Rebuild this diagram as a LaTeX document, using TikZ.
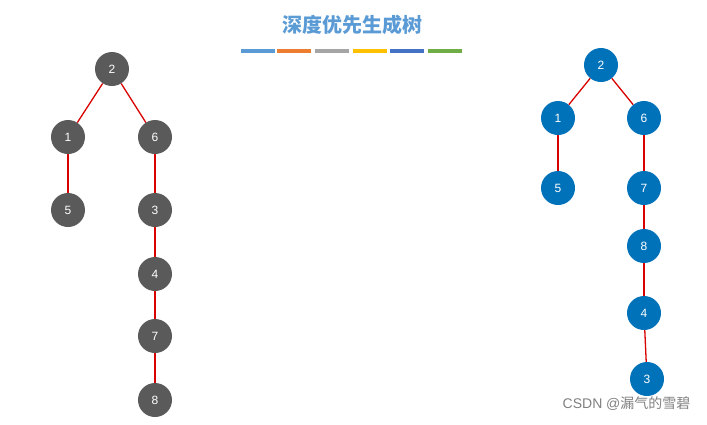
\documentclass[tikz,border=0pt]{standalone}
\usepackage{fontspec}
\setmainfont{Liberation Sans}
\newfontfamily\cjk{Noto Sans CJK SC}
\definecolor{gc}{RGB}{90,90,90}
\definecolor{bc}{RGB}{0,114,185}
\definecolor{tc}{RGB}{91,155,213}
\definecolor{c1}{RGB}{91,155,213}\definecolor{c2}{RGB}{237,125,49}\definecolor{c3}{RGB}{165,165,165}
\definecolor{c4}{RGB}{255,192,0}\definecolor{c5}{RGB}{68,114,196}\definecolor{c6}{RGB}{112,173,71}
\begin{document}
\begin{tikzpicture}[x=1pt,y=-1pt,
 g/.style={circle,fill=gc,minimum size=34pt,inner sep=0,text=white,font=\fontsize{12}{12}\selectfont},
 b/.style={g,fill=bc},
 e/.style={red!85!black,line width=1.3pt}]
\useasboundingbox (0,0) rectangle (707,424);
\node[text=tc,font=\cjk\bfseries\fontsize{20}{20}\selectfont] (t) at (352,25) {深度优先生成树};
\foreach \a [count=\i] in {241,277,315,353,390,428}
 \fill[c\i] (\a,49) rectangle (\a+34,53);
\node[g] (l2) at (112,69) {2};
\node[g] (l1) at (68,137) {1};
\node[g] (l6) at (155,137) {6};
\node[g] (l5) at (68,210) {5};
\node[g] (l3) at (155,210) {3};
\node[g] (l4) at (155,274) {4};
\node[g] (l7) at (155,336) {7};
\node[g] (l8) at (155,400) {8};
\foreach \u/\v in {l2/l1,l2/l6,l1/l5,l6/l3,l3/l4,l4/l7,l7/l8} \draw[e] (\u)--(\v);
\node[b] (r2) at (601,65) {2};
\node[b] (r1) at (558,118) {1};
\node[b] (r6) at (644,118) {6};
\node[b] (r5) at (558,188) {5};
\node[b] (r7) at (644,188) {7};
\node[b] (r8) at (644,246) {8};
\node[b] (r4) at (644,313) {4};
\node[b] (r3) at (647,379) {3};
\foreach \u/\v in {r2/r1,r2/r6,r1/r5,r6/r7,r7/r8,r8/r4,r4/r3} \draw[e] (\u)--(\v);
\node[text=gray,font=\fontsize{14}{14}\selectfont,anchor=east] (w) at (694,404) {CSDN @{\cjk 漏气的雪碧}};
\end{tikzpicture}
\end{document}
